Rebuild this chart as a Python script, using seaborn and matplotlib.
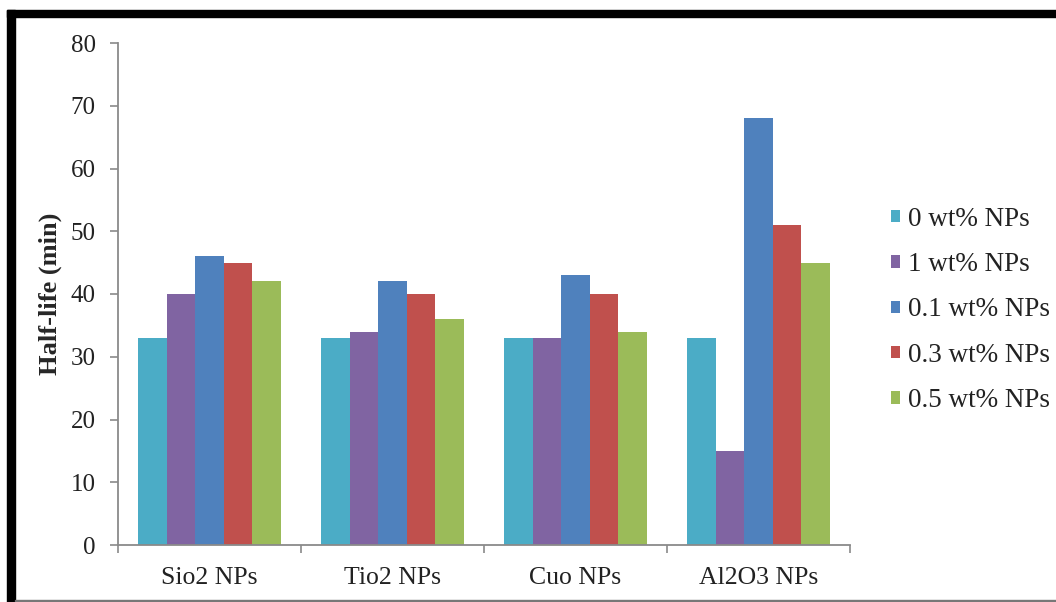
import numpy as np
import pandas as pd
import matplotlib
matplotlib.use("Agg")
import matplotlib.pyplot as plt
import matplotlib.ticker as mtick
from matplotlib.patches import Rectangle
import seaborn as sns

categories = ["Sio2 NPs", "Tio2 NPs", "Cuo NPs", "Al2O3 NPs"]
series = ["0 wt% NPs", "1 wt% NPs", "0.1 wt% NPs", "0.3 wt% NPs", "0.5 wt% NPs"]
vals_0 = [33, 33, 33, 33]
vals_1 = [40, 34, 33, 15]
vals_01 = [46, 42, 43, 68]
vals_03 = [45, 40, 40, 51]
vals_05 = [42, 36, 34, 45]
colors = ["#4BACC6", "#8064A2", "#4F81BD", "#C0504D", "#9BBB59"]

rows = []
for s, vals in zip(series, [vals_0, vals_1, vals_01, vals_03, vals_05]):
    for c, v in zip(categories, vals):
        rows.append({"cat": c, "series": s, "value": v})
df = pd.DataFrame(rows)

sns.set_style("white")
plt.rcParams["font.family"] = ["Liberation Serif", "DejaVu Serif"]

fig = plt.figure(figsize=(10.56, 6.02), dpi=100)
ax = fig.add_axes([118 / 1056, 1 - 545 / 602, (850 - 118) / 1056, (545 - 43) / 602])

sns.barplot(data=df, x="cat", y="value", hue="series", order=categories,
            hue_order=series, palette=colors, saturation=1, width=0.78,
            gap=0, edgecolor="none", linewidth=0, ax=ax)

ax.set_ylim(0, 80)
ax.set_xlim(-0.5, 3.5)
ax.yaxis.set_major_locator(mtick.MultipleLocator(10))
ax.set_xlabel("")
ax.set_ylabel("Half-life (min)", fontsize=19, fontweight="bold", labelpad=6)
for side in ["top", "right"]:
    ax.spines[side].set_visible(False)
for side in ["left", "bottom"]:
    ax.spines[side].set_color("#8a8a8a")
    ax.spines[side].set_linewidth(1.3)

ax.tick_params(axis="y", which="major", left=True, length=6, width=1.2,
               color="#8a8a8a", labelsize=18, pad=10, labelcolor="#222222")
ax.tick_params(axis="x", which="major", bottom=False, labelsize=18.5, pad=12,
               labelcolor="#222222")
ax.xaxis.set_minor_locator(mtick.FixedLocator([-0.5, 0.5, 1.5, 2.5, 3.5]))
ax.tick_params(axis="x", which="minor", bottom=True, length=6, width=1.2,
               color="#8a8a8a")

handles, labels = ax.get_legend_handles_labels()
ax.legend(handles, labels, loc="center left", bbox_to_anchor=(891 / 1056, 1 - 310 / 602),
          bbox_transform=fig.transFigure, frameon=False, fontsize=19.5,
          handlelength=0.33, handleheight=0.33, handletextpad=0.3,
          labelspacing=0.75, borderaxespad=0, borderpad=0,
          labelcolor="#222222")

# picture frame
fig.add_artist(Rectangle((7 / 1056, 1 - 17 / 602), 1 - 7 / 1056, 7 / 602,
                         transform=fig.transFigure, color="black"))
fig.add_artist(Rectangle((7 / 1056, 0), 8 / 1056, 1 - 10 / 602,
                         transform=fig.transFigure, color="black"))
fig.add_artist(Rectangle((15 / 1056, 1 / 602), 1, 1.5 / 602,
                         transform=fig.transFigure, color="#777777"))

fig.savefig("out.png", dpi=100)
